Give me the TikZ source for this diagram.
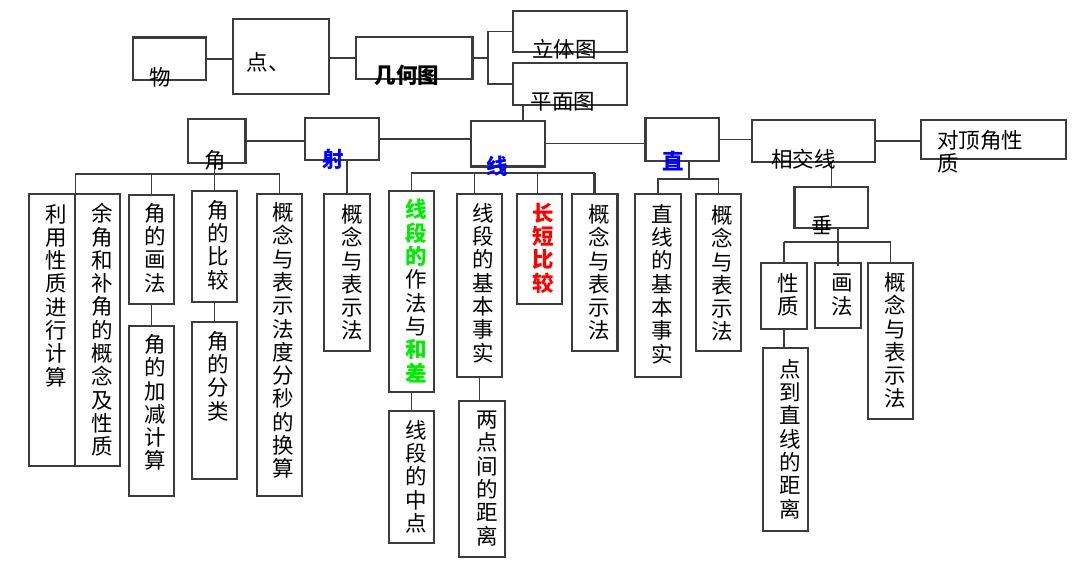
\documentclass[tikz,border=0pt]{standalone}
\usepackage{fontspec}
\setmainfont{Noto Sans CJK SC}
\usepackage{xcolor}

\definecolor{lblue}{RGB}{0,0,255}
\definecolor{lgreen}{RGB}{0,235,0}
\definecolor{lred}{RGB}{255,0,0}
\definecolor{edge}{RGB}{60,60,60}
\newcommand\lblfont{\fontsize{21.5}{23.3}\selectfont}
\newcommand\grn[1]{\textcolor{lgreen}{\bfseries #1}}

\begin{document}
\begin{tikzpicture}[x=1pt, y=-1pt,
  box/.style={rectangle, draw=edge, line width=1.2pt, inner sep=0pt},
  col/.style={box, minimum width=45pt},
  link/.style={draw=edge, line width=1.2pt},
  thickline/.style={draw=edge, line width=2.6pt},
  lbl/.style={inner sep=0pt, font=\lblfont},
  vlbl/.style={lbl, align=center},
]
  \useasboundingbox (0,0) rectangle (1080,583);

  % top row
  \node[box, minimum width=73pt,  minimum height=42pt] (wu)    at (169.5,59)    {};
  \node[box, minimum width=96pt,  minimum height=75pt] (dian)  at (281,56.5)    {};
  \node[box, minimum width=116pt, minimum height=42pt] (jihe)  at (414,58)      {};
  \node[box, minimum width=114pt, minimum height=41pt] (liti)  at (570,31.5)    {};
  \node[box, minimum width=114pt, minimum height=42pt] (pingm) at (570,84)      {};

  % second row
  \node[box, minimum width=57pt,  minimum height=44pt] (jiao)  at (216.5,141)   {};
  \node[box, minimum width=74pt,  minimum height=42pt] (she)   at (342,139)     {};
  \node[box, minimum width=74pt,  minimum height=45pt] (xian)  at (508,143.5)   {};
  \node[box, minimum width=73pt,  minimum height=43pt] (zhi)   at (682.5,139.5) {};
  \node[box, minimum width=123pt, minimum height=42pt] (xjx)   at (813.5,141)   {};
  \node[box, minimum width=145pt, minimum height=39pt] (dd)    at (993.5,139.5) {};
  \node[box, minimum width=73pt,  minimum height=41pt] (chui)  at (831.5,207.5) {};

  % columns
  \node[col, minimum width=46pt, minimum height=272pt] (a1) at (52,330)      {};
  \node[col, minimum height=272pt] (a2) at (97.5,330)    {};
  \node[col, minimum height=109pt] (a3) at (151.5,249.5) {};
  \node[col, minimum height=170pt] (a4) at (151.5,411)   {};
  \node[col, minimum height=111pt] (a5) at (214.5,246.5) {};
  \node[col, minimum height=157pt] (a6) at (214.5,400.5) {};
  \node[col, minimum height=302pt] (a7) at (279.5,345)   {};
  \node[col, minimum width=46pt, minimum height=157pt] (s1) at (347,272.5)   {};
  \node[col, minimum height=201pt] (l1) at (411.5,291.5) {};
  \node[col, minimum height=132pt] (l2) at (411.5,477)   {};
  \node[col, minimum height=183pt] (l3) at (479.5,285.5) {};
  \node[col, minimum width=46pt, minimum height=156pt] (l4) at (482,479)     {};
  \node[col, minimum height=110pt] (l5) at (539.5,249)   {};
  \node[col, minimum height=157pt] (l6) at (594.5,272.5) {};
  \node[col, minimum width=46pt, minimum height=183pt] (z1) at (658,285.5)   {};
  \node[col, minimum height=157pt] (z2) at (718.5,272.5) {};
  \node[col, minimum width=46pt, minimum height=66pt]  (c1) at (784,296)     {};
  \node[col, minimum width=46pt, minimum height=65pt]  (c2) at (838,295.5)   {};
  \node[col, minimum height=156pt] (c3) at (890.5,341)   {};
  \node[col, minimum height=183pt] (c4) at (785.5,439.5) {};

  % heavy edges
  \draw[thickline] (wu.north west) -- (wu.north east);
  \draw[thickline] (jihe.north east) -- (jihe.south east);
  \draw[thickline] (jiao.north east) -- (jiao.south east);
  \draw[thickline] (xian.south west) -- (xian.south east);
  \draw[thickline] (zhi.north west) -- (zhi.south west);
  \draw[thickline] (chui.north west) -- (chui.south west);
  \draw[thickline] (l6.north east) -- (l6.south east);

  % connectors
  \coordinate (jb)   at (488,58);
  \coordinate (jbar) at (215,174);
  \coordinate (xbar) at (505,173);
  \coordinate (zbar) at (689,179);
  \coordinate (cbar) at (838,242);

  \draw[link] (wu.east) -- (wu.east -| dian.west);
  \draw[link] (dian.east |- jihe.west) -- (jihe.west);
  \draw[link] (jihe.east) -- (jb);
  \draw[link] (liti.west) -| (jb) |- (pingm.west);
  \draw[link] ([xshift=-47pt]pingm.south) -- ([xshift=15pt]xian.north);

  \draw[thickline] (jiao.east) -- (jiao.east -| she.west);
  \draw[thickline] (she.east) -- (she.east -| xian.west);
  \draw[link] (xian.east) -- (xian.east -| zhi.west);
  \draw[link] (zhi.east) -- (zhi.east -| xjx.west);
  \draw[thickline] (xjx.east) -- (xjx.east -| dd.west);
  \draw[link] (xjx.south -| chui.north) -- (chui.north);

  \draw[link] (jiao.south -| a5.north) -- (a5.north);
  \draw[link] (a1.north east) |- (jbar) -| (a7.north);
  \draw[link] (a3.north) -- (a3.north |- jbar);
  \draw[link] (a3.south) -- (a4.north);
  \draw[link] (a5.south) -- (a6.north);

  \draw[thickline] (she.south -| s1.north) -- (s1.north);

  \draw[link] (xian.south -| xbar) -- (xbar);
  \draw[link] (l1.north) |- (xbar) -- (xbar -| l6.north);
  \draw[link] ([xshift=-5pt]l3.north) -- ([xshift=-5pt]l3.north |- xbar);
  \draw[link] ([xshift=-2pt]l5.north) -- ([xshift=-2pt]l5.north |- xbar);
  \draw[thickline] (l6.north) -- (l6.north |- xbar);
  \draw[link] (l1.south) -- (l2.north);
  \draw[link] (l3.south) -- (l3.south |- l4.north);

  \draw[link] (zhi.south -| zbar) -- (zbar);
  \draw[link] (z1.north) |- (zbar) -| (z2.north);

  \draw[link] (c2.north |- chui.south) -- ([yshift=-4pt]c2.north);
  \draw[thickline] (c1.north) -- (c1.north |- cbar);
  \draw[link] (c1.north |- cbar) -| (c3.north);
  \draw[link] (c1.south) -- (c1.south |- c4.north);

  % labels
  \node[lbl] (twu)   at (160,77)    {物};
  \node[lbl] (tdian) at (268,62)    {点、};
  \node[lbl] (tjihe) at (407,75)    {\bfseries 几何图};
  \node[lbl] (tliti) at (564.5,49)  {立体图};
  \node[lbl] (tping) at (563,101.5) {平面图};
  \node[lbl] (tjiao) at (215,160)   {角};
  \node[lbl, text=lblue] (tshe)  at (333,159)   {\bfseries 射};
  \node[lbl, text=lblue] (txian) at (497.5,166) {\bfseries 线};
  \node[lbl, text=lblue] (tzhi)  at (673.5,161) {\bfseries 直};
  \node[lbl] (txjx)  at (803.5,159) {相交线};
  \node[lbl, align=left, anchor=west] (tdd) at (937,152) {对顶角性\\质};
  \node[lbl] (tchui) at (822.5,225) {垂};

  \node[vlbl] (ta1) at (56,295.5)  {利\\用\\性\\质\\进\\行\\计\\算};
  \node[vlbl] (ta2) at (102,330)   {余\\角\\和\\补\\角\\的\\概\\念\\及\\性\\质};
  \node[vlbl] (ta3) at (155,248)   {角\\的\\画\\法};
  \node[vlbl] (ta4) at (155,402.5) {角\\的\\加\\减\\计\\算};
  \node[vlbl] (ta5) at (218,245)   {角\\的\\比\\较};
  \node[vlbl] (ta6) at (218,376)   {角\\的\\分\\类};
  \node[vlbl] (ta7) at (283,340.5) {概\\念\\与\\表\\示\\法\\度\\分\\秒\\的\\换\\算};
  \node[vlbl] (ts1) at (352,272.5) {概\\念\\与\\表\\示\\法};
  \node[vlbl] (tl1) at (416,291)   {\grn{线}\\\grn{段}\\\grn{的}\\作\\法\\与\\\grn{和}\\\grn{差}};
  \node[vlbl] (tl2) at (416,476.5) {线\\段\\的\\中\\点};
  \node[vlbl] (tl3) at (483,283)   {线\\段\\的\\基\\本\\事\\实};
  \node[vlbl] (tl4) at (487,478.5) {两\\点\\间\\的\\距\\离};
  \node[vlbl, text=lred, font=\lblfont\bfseries] (tl5) at (543,248) {长\\短\\比\\较};
  \node[vlbl] (tl6) at (599,272.5) {概\\念\\与\\表\\示\\法};
  \node[vlbl] (tz1) at (662,284)   {直\\线\\的\\基\\本\\事\\实};
  \node[vlbl] (tz2) at (722,273.5) {概\\念\\与\\表\\示\\法};
  \node[vlbl] (tc1) at (788,295)   {性\\质};
  \node[vlbl] (tc2) at (842,295)   {画\\法};
  \node[vlbl] (tc3) at (895,340.5) {概\\念\\与\\表\\示\\法};
  \node[vlbl] (tc4) at (790,439)   {点\\到\\直\\线\\的\\距\\离};
\end{tikzpicture}
\end{document}
